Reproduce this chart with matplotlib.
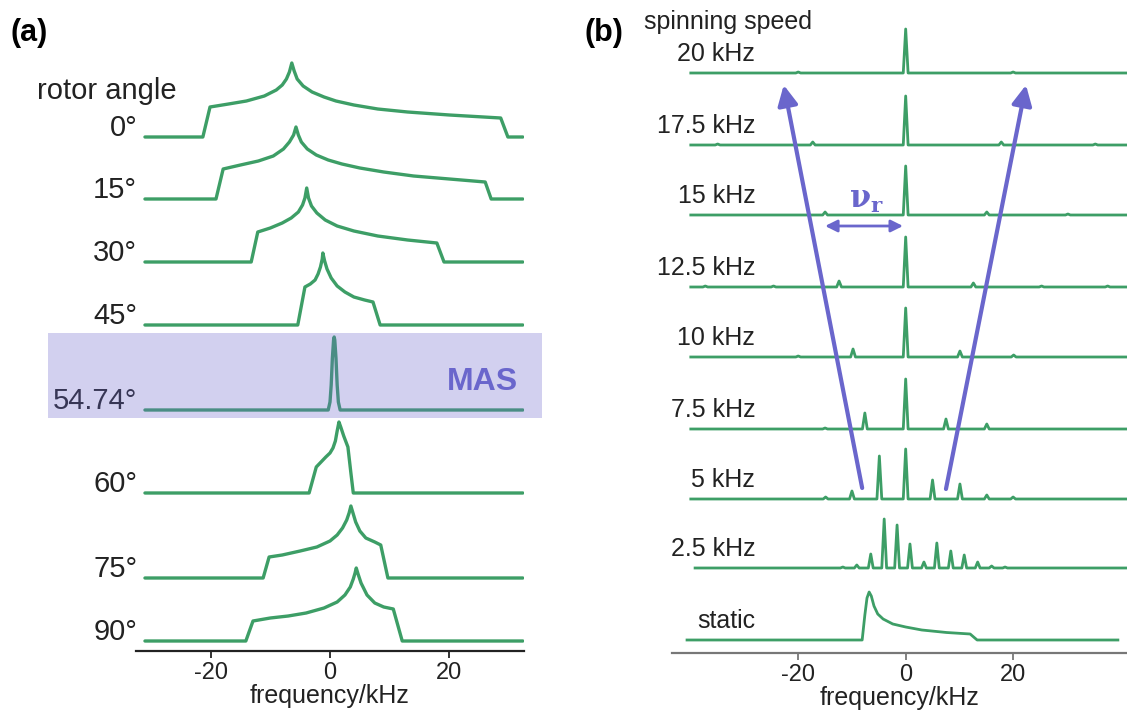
import matplotlib.pyplot as plt
from matplotlib.patches import Rectangle

plt.rcParams['font.family'] = ['Liberation Sans', 'DejaVu Sans']
plt.rcParams['mathtext.fontset'] = 'dejavuserif'
plt.rcParams['axes.unicode_minus'] = False

GREEN = '#3d9e66'
PURPLE = '#6a66cc'

# ---- panel (a): rotor angle lineshapes (freq in kHz, intensity in px) ----
angle_labels = ['0°', '15°', '30°', '45°', '54.74°', '60°', '75°', '90°']
angle_offsets = [514, 452, 389, 326, 241, 158, 73, 10]

a0_x = [-31, -21.3, -20.1, -17, -14, -11, -9, -8, -7.3, -6.8, -6.4, -6.0, -5.5,
        -4.5, -3, -1, 1, 4, 8, 13, 20, 28.6, 29.8, 32.3]
a0_y = [0, 0, 30, 33, 36, 41, 47, 52, 58, 65, 74, 66, 58,
        51, 45, 40, 36, 32, 28, 25, 22, 19, 0, 0]
a15_x = [-31, -19.1, -17.9, -15, -12, -9.5, -7.8, -6.8, -6.1, -5.7, -5.3, -4.8,
         -3.8, -2.3, -0.3, 2, 5, 9, 14, 20, 26.0, 27.0, 32.3]
a15_y = [0, 0, 30, 34, 38, 43, 50, 57, 64, 72, 64, 57,
         50, 44, 39, 35, 31, 27, 23, 20, 17, 0, 0]
a30_x = [-31, -13.2, -12.1, -10, -8, -6.5, -5.3, -4.6, -4.2, -3.9, -3.6, -3.1,
         -2.2, -0.8, 1.2, 4, 8, 13, 17.9, 19.1, 32.3]
a30_y = [0, 0, 30, 34, 39, 44, 50, 57, 64, 74, 64, 56,
         49, 42, 36, 31, 26, 22, 19, 0, 0]
a45_x = [-31, -5.4, -4.2, -3.3, -2.5, -2.0, -1.6, -1.3, -1.2, -0.9, -0.5, 0.2,
         1.2, 2.5, 4, 5.8, 7.2, 8.4, 32.3]
a45_y = [0, 0, 38, 41, 45, 51, 58, 66, 72, 64, 56, 47,
         39, 33, 28, 25, 23, 0, 0]
a55_x = [-31, -0.3, 0, 0.2, 0.4, 0.6, 0.7, 0.8, 1.0, 1.2, 1.4, 1.7, 32.3]
a55_y = [0, 0, 8, 25, 52, 70, 73, 70, 52, 25, 8, 0, 0]
a60_x = [-31, -3.5, -2.3, -1.5, -0.7, 0, 0.5, 0.9, 1.2, 1.5, 1.8, 2.3, 3.0, 3.5, 3.9, 32.3]
a60_y = [0, 0, 26, 31, 36, 40, 45, 52, 62, 71, 66, 57, 46, 20, 0, 0]
a75_x = [-31, -11.2, -10.2, -8, -5, -2.2, 0, 1.2, 2.1, 2.8, 3.2, 3.5, 3.8, 4.3,
         5.0, 6, 7.5, 8.5, 9.7, 32.3]
a75_y = [0, 0, 21, 23, 27, 31, 37, 43, 50, 58, 65, 72, 66, 56,
         47, 40, 36, 33, 0, 0]
a90_x = [-31, -14.1, -12.9, -10, -7, -4, -1, 1.2, 2.5, 3.4, 3.9, 4.2, 4.4, 4.7,
         5.2, 6.2, 7.5, 9, 10.6, 12.1, 32.3]
a90_y = [0, 0, 20, 23, 25, 28, 33, 39, 46, 54, 62, 68, 73, 67,
         58, 46, 38, 34, 32, 0, 0]

a_shapes = [(a0_x, a0_y), (a15_x, a15_y), (a30_x, a30_y), (a45_x, a45_y),
            (a55_x, a55_y), (a60_x, a60_y), (a75_x, a75_y), (a90_x, a90_y)]

# ---- panel (b): spinning sidebands (position kHz, height px) ----
speed_labels = ['20 kHz', '17.5 kHz', '15 kHz', '12.5 kHz', '10 kHz',
                '7.5 kHz', '5 kHz', '2.5 kHz']
speed_offsets = [580, 508, 438, 366, 296, 224, 154, 85]
speed_start = [-40, -40, -40, -40, -40, -40, -40, -39.2]

sb20_pos = [-20, 0, 20]
sb20_h = [1, 44, 1]
sb175_pos = [-35, -17.3, 0, 17.8, 35.3]
sb175_h = [1, 3, 49, 3, 1]
sb15_pos = [-15, 0, 15.1, 30.2]
sb15_h = [3, 49, 3, 1]
sb125_pos = [-37.3, -24.6, -12.4, 0, 12.6, 25.3, 37.6]
sb125_h = [1, 1, 6, 50, 4, 1, 1]
sb10_pos = [-20, -9.8, 0, 10.1, 20.1]
sb10_h = [1, 8, 49, 6, 2]
sb75_pos = [-15, -7.6, 0, 7.5, 15.1]
sb75_h = [1, 16, 50, 10, 5]
sb5_pos = [-14.9, -10, -4.9, 0, 5.0, 10.1, 15.1, 20]
sb5_h = [2, 8, 43, 50, 19, 15, 4, 2]
sb25_pos = [-11.7, -9.1, -6.5, -4.0, -1.6, 0.8, 3.4, 5.8, 8.4, 10.9, 13.4, 16.0, 18.5]
sb25_h = [1, 3, 14, 49, 43, 24, 6, 25, 17, 13, 6, 2, 1]

sidebands = [(sb20_pos, sb20_h), (sb175_pos, sb175_h), (sb15_pos, sb15_h),
             (sb125_pos, sb125_h), (sb10_pos, sb10_h), (sb75_pos, sb75_h),
             (sb5_pos, sb5_h), (sb25_pos, sb25_h)]

static_x = [-40.7, -8.1, -7.6, -7.2, -6.8, -6.4, -5.9, -5.2, -4.2, -2.4, 0, 3, 7.6,
            12.0, 13.3, 39.5]
static_y = [0, 0, 25, 42, 48, 44, 34, 26, 21, 16, 13, 10, 7.5, 6, 0, 0]
static_offset = 13


def stick_trace(pos, hgt, x0, x1, hw=0.45):
    xs, ys = [x0], [0]
    for p, h in zip(pos, hgt):
        xs += [p - hw, p, p + hw]
        ys += [0, h, 0]
    xs.append(x1)
    ys.append(0)
    return xs, ys


fig = plt.figure(figsize=(11.27, 7.11), dpi=100)
W, H = 1127, 711

# panel (a) axes: spine from x=136..524 px, axis line at y=651 px
axa = fig.add_axes([136 / W, (H - 651) / H, (524 - 136) / W, 651 / H])
axa.set_xlim(-32.5, 32.5)
axa.set_ylim(0, 651)

for (xs, ys), off in zip(a_shapes, angle_offsets):
    axa.plot(xs, [y + off for y in ys], color=GREEN, lw=2.4,
             solid_joinstyle='round', solid_capstyle='round')

for lab, off in zip(angle_labels, angle_offsets):
    axa.text(-32.3, off + 1, lab, ha='right', va='baseline', fontsize=21,
             color='#222222', clip_on=False)
axa.text(-49.1, 552, 'rotor angle', ha='left', va='baseline', fontsize=21,
         color='#222222', clip_on=False)

axa.add_patch(Rectangle((-47.2, 233), 82.7, 85, facecolor=PURPLE, alpha=0.3,
                        edgecolor='none', clip_on=False, zorder=3))
axa.text(31.5, 269, 'MAS', ha='right', va='center', fontsize=23,
         fontweight='bold', color=PURPLE, zorder=4)

# panel (b) axes: spine from x=672 px to the right edge, axis line at y=653 px
axb = fig.add_axes([672 / W, (H - 653) / H, (W - 672) / W, 653 / H])
axb.set_xlim(-43.5, 41.2)
axb.set_ylim(0, 653)

for (pos, hgt), off, x0 in zip(sidebands, speed_offsets, speed_start):
    xs, ys = stick_trace(pos, hgt, x0, 41.2)
    axb.plot(xs, [y + off for y in ys], color=GREEN, lw=2.0, solid_joinstyle='round')
axb.plot(static_x, [y + static_offset for y in static_y], color=GREEN, lw=2.0,
         solid_joinstyle='round')

for lab, off in zip(speed_labels + ['static'], speed_offsets + [static_offset]):
    axb.text(-28.0, off + 19, lab, ha='right', va='center', fontsize=18,
             color='#222222', clip_on=False)
axb.text(-48.7, 631, 'spinning speed', ha='left', va='center', fontsize=18,
         color='#222222', clip_on=False)

arrow_kw = dict(arrowstyle='-|>', color=PURPLE, lw=3, mutation_scale=30,
                shrinkA=0, shrinkB=0)
axb.annotate('', xy=(-22.7, 568), xytext=(-8.1, 165), arrowprops=arrow_kw)
axb.annotate('', xy=(22.4, 568), xytext=(7.5, 164), arrowprops=arrow_kw)
axb.annotate('', xy=(-0.5, 427), xytext=(-15, 427),
             arrowprops=dict(arrowstyle='<|-|>', color=PURPLE, lw=2,
                             mutation_scale=18, shrinkA=0, shrinkB=0))
axb.text(-7.3, 453, r'$\mathbf{\nu_r}$', ha='center', va='center',
         fontsize=22, color=PURPLE)

for ax, spine_col in [(axa, '#222222'), (axb, '#777777')]:
    ax.patch.set_alpha(0)
    for s in ['top', 'left', 'right']:
        ax.spines[s].set_visible(False)
    ax.spines['bottom'].set_color(spine_col)
    ax.spines['bottom'].set_linewidth(1.6)
    ax.set_yticks([])
    ax.set_xticks([-20, 0, 20])
    ax.tick_params(axis='x', labelsize=17, length=5, width=1.3,
                   color=spine_col, labelcolor='#222222', pad=3)
    ax.set_xlabel('frequency/kHz', fontsize=18, color='#222222', labelpad=0)

fig.text(11 / W, 1 - 33 / H, '(a)', fontsize=22, fontweight='bold', va='center')
fig.text(584 / W, 1 - 33 / H, '(b)', fontsize=22, fontweight='bold', va='center')

fig.savefig('out.png', dpi=100)
